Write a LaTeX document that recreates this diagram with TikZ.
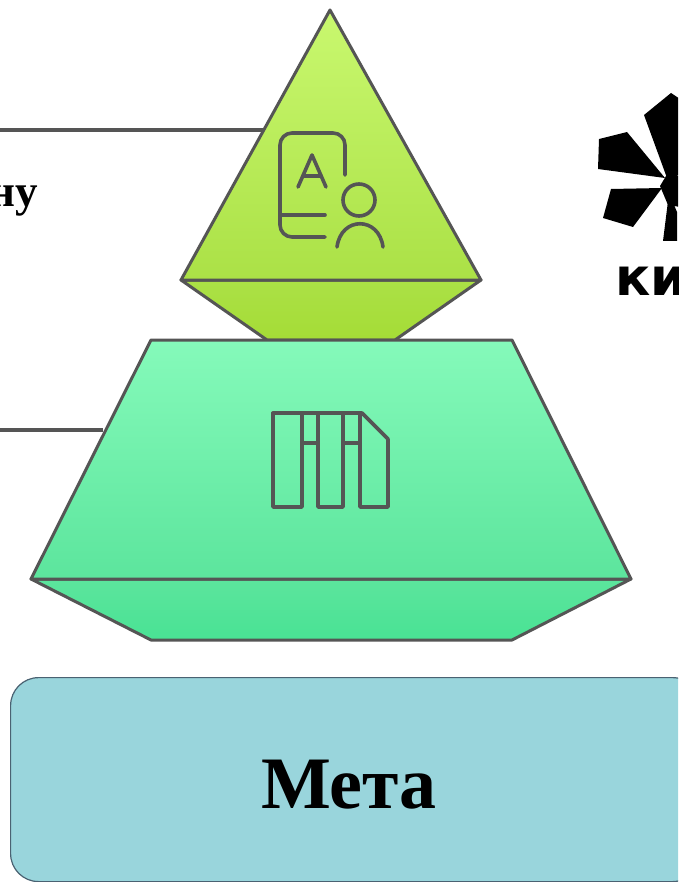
\documentclass[tikz,border=0pt]{standalone}
\usepackage{fontspec}
\setmainfont{Liberation Serif}
\setsansfont{DejaVu Sans}
\usetikzlibrary{positioning, calc}

\definecolor{edgegray}{HTML}{555555}
\definecolor{metafill}{HTML}{99D5DC}
\definecolor{metaedge}{HTML}{4A6272}
\definecolor{topa}{HTML}{C9F86F}
\definecolor{topb}{HTML}{ABE146}
\definecolor{topc}{HTML}{A5DC36}
\definecolor{mida}{HTML}{85FABA}
\definecolor{midb}{HTML}{5CE59D}
\definecolor{midc}{HTML}{49E294}

\begin{document}
\begin{tikzpicture}[
    x=1pt, y=-1pt,
    % Shape styles
    facet/.style={
        draw=edgegray, line width=3pt, line join=round
    },
    icon/.style={
        draw=edgegray, line width=3.6pt, line cap=round, line join=round
    },
    leader/.style={
        draw=edgegray, line width=3.6pt
    },
    metabox/.style={
        rectangle, rounded corners=28pt, draw=metaedge, line width=1.2pt,
        fill=metafill, minimum width=690pt, minimum height=204pt, inner sep=0pt
    },
    metalabel/.style={
        font=\bfseries\fontsize{74}{74}\selectfont, text=black, inner sep=0pt
    }
]
\useasboundingbox (0,0) rectangle (678,882);
\clip (0,0) rectangle (678,882);

% --- Background ---
\fill[white] (0,0) rectangle (678,882);

% --- Meta box ---
\node[metabox, anchor=north west] (meta) at (10,677) {};
\node[metalabel, anchor=base] (metatext) at (349,808) {Мета};

% --- Leaders ---
\coordinate (topleft) at (0,130);
\coordinate (topright) at (265,130);
\coordinate (midleft) at (0,430);
\coordinate (midright) at (103,430);
\draw[leader] (topleft) -- (topright);
\draw[leader] (midleft) -- (midright);

% --- Cropped label ---
\node[anchor=base east, inner sep=0pt, font=\bfseries\fontsize{45}{45}\selectfont] (cutlabel) at (38,207) {ну};

% --- Top solid ---
\path[facet, top color=topb, bottom color=topc] (181,280) -- (481,280) -- (395,340) -- (267,340) -- cycle;
\path[facet, top color=topa, bottom color=topb] (330,10) -- (481,280) -- (181,280) -- cycle;

% --- Middle solid ---
\path[facet, top color=midb, bottom color=midc] (31,579) -- (631,579) -- (512,640) -- (151,640) -- cycle;
\path[facet, top color=mida, bottom color=midb] (151,340) -- (512,340) -- (631,579) -- (31,579) -- cycle;

% --- Person icon ---
\draw[icon] (345,175) -- (345,145) arc[start angle=0, end angle=-90, radius=12] -- (292,133)
    arc[start angle=-90, end angle=-180, radius=12] -- (280,225)
    arc[start angle=180, end angle=90, radius=12] -- (325,237);
\draw[icon] (280,215) -- (325,215);
\draw[icon] (298,187) -- (312,155) -- (326,187);
\draw[icon] (303,176) -- (321,176);
\draw[icon] (359,200) circle[radius=16];
\draw[icon] (337,247) .. controls (341,216) and (379,216) .. (383,247);

% --- Books icon ---
\draw[icon] (273,413) -- (362,413) -- (388,439) -- (388,507) -- (360,507) -- (360,413);
\draw[icon] (273,413) -- (273,507) -- (302,507) -- (302,413);
\draw[icon] (318,413) -- (318,507) -- (343,507) -- (343,413);
\draw[icon] (302,443) -- (318,443);
\draw[icon] (343,443) -- (360,443);

% --- Logo ---
\fill[black] (644,115) -- (671,93) -- (680,99) -- (680,175) -- (667,178) -- cycle;
\fill[black] (599,139) -- (627,132) -- (665,178) -- (598,169) -- cycle;
\fill[black] (611,189) -- (662,188) -- (633,227) -- (603,218) -- cycle;
\fill[black] (663,241) -- (669,193) -- (677,212) -- (677,241) -- cycle;
\fill[black] (660,186) -- (666,176) -- (680,176) -- (680,207) -- (668,205) -- cycle;
\node[anchor=base west, inner sep=0pt, font=\sffamily\bfseries\fontsize{52}{52}\selectfont] (logotext) at (615,295) {ки};

\end{tikzpicture}
\end{document}
